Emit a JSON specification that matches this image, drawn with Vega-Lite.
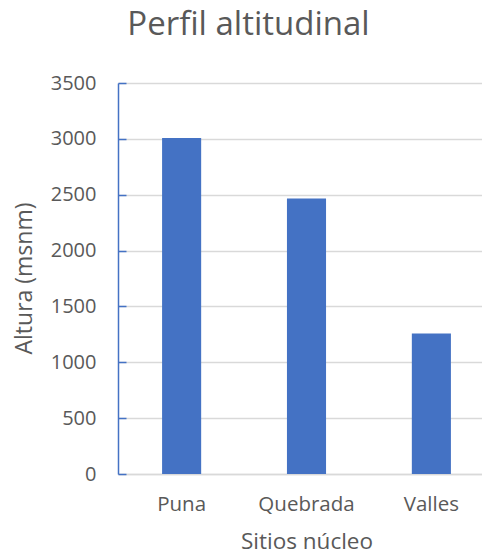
{
  "$schema": "https://vega.github.io/schema/vega-lite/v6.json",
  "autosize": {"type": "none"},
  "padding": {"left": 118, "top": 83, "right": 0, "bottom": 80},
  "width": 377,
  "height": 391,
  "background": "white",
  "title": {
    "text": "Perfil altitudinal",
    "anchor": "middle",
    "frame": "group",
    "dx": -58,
    "offset": 5,
    "baseline": "alphabetic",
    "font": "Open Sans",
    "fontSize": 33,
    "fontWeight": "normal",
    "color": "#595959"
  },
  "data": {
    "values": [
      {"sitio": "Puna", "altura": 3008},
      {"sitio": "Quebrada", "altura": 2465},
      {"sitio": "Valles", "altura": 1258}
    ]
  },
  "mark": {"type": "bar", "color": "#4472C4"},
  "encoding": {
    "x": {
      "field": "sitio",
      "type": "nominal",
      "sort": null,
      "scale": {"paddingInner": 0.687, "paddingOuter": 0.353},
      "axis": {
        "title": "Sitios núcleo",
        "labelAngle": 0,
        "ticks": false,
        "domainColor": "#D9D9D9",
        "domainWidth": 1.5,
        "labelFont": "Open Sans",
        "labelFontSize": 20.5,
        "labelColor": "#595959",
        "labelPadding": 20,
        "titleFont": "Open Sans",
        "titleFontSize": 22.5,
        "titleFontWeight": "normal",
        "titleColor": "#595959",
        "titleBaseline": "alphabetic",
        "titleY": 74
      }
    },
    "y": {
      "field": "altura",
      "type": "quantitative",
      "scale": {"domain": [0, 3500], "nice": false},
      "axis": {
        "title": "Altura (msnm)",
        "values": [0, 500, 1000, 1500, 2000, 2500, 3000, 3500],
        "format": "d",
        "domainColor": "#4472C4",
        "domainWidth": 1.5,
        "tickColor": "#4472C4",
        "tickWidth": 1.5,
        "tickSize": -8,
        "gridColor": "#D9D9D9",
        "gridWidth": 1.5,
        "labelFont": "Open Sans",
        "labelFontSize": 20,
        "labelColor": "#595959",
        "labelPadding": 30,
        "titleFont": "Open Sans",
        "titleFontSize": 23,
        "titleFontWeight": "normal",
        "titleColor": "#595959",
        "titleX": -94,
        "titleY": 195,
        "titleBaseline": "middle",
        "titleAlign": "center"
      }
    }
  },
  "config": {"view": {"stroke": null}}
}
